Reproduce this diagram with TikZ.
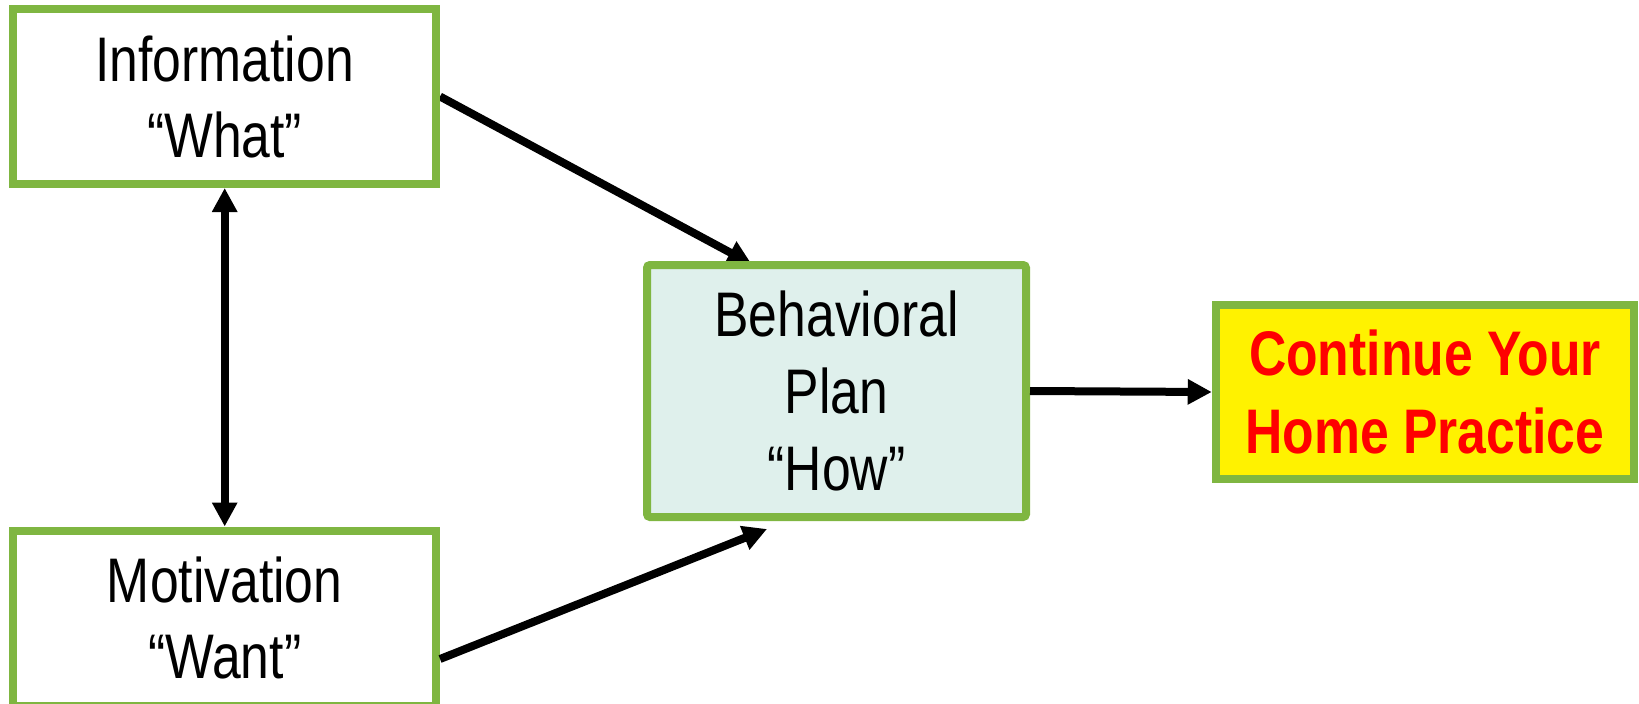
\documentclass[tikz,border=0pt]{standalone}
\usepackage{fontspec}
\setmainfont{Liberation Sans}[FakeStretch=0.82]
\usetikzlibrary{arrows.meta,calc,backgrounds}
\definecolor{boxgreen}{RGB}{127,182,65}
\definecolor{planfill}{RGB}{223,240,236}
\begin{document}
\begin{tikzpicture}[x=1pt,y=-1pt,
  box/.style={draw=boxgreen, line width=8pt, fill=white, inner sep=0pt, align=center,
    font=\fontsize{63}{76}\selectfont},
  tip/.tip={Triangle[length=24pt,width=24pt]},
  conn/.style={line width=8pt, -tip},
  biconn/.style={line width=8pt, tip-tip}]
\useasboundingbox (0,0) rectangle (1639,704);
\node[box, minimum width=422.7pt, minimum height=175pt] (info) at (224.7,96.5) {Information\\“What”};
\node[box, minimum width=422.7pt, minimum height=175pt] (mot) at (224.7,618) {Motivation\\“Want”};
\node[box, fill=planfill, rounded corners=3pt, minimum width=379pt, minimum height=252pt,
  font=\fontsize{63}{77}\selectfont] (beh) at (836.5,391) {Behavioral\\Plan\\“How”};
\node[box, fill=yellow, text=red, minimum width=418.5pt, minimum height=174pt,
  font=\bfseries\fontsize{63}{78}\selectfont] (cont) at (1425,392) {Continue Your\\Home Practice};
\begin{scope}[on background layer]
  \draw[conn] (info.east) -- ($(beh.north)+(-85,3)$);
\end{scope}
\draw[biconn] (info.south) -- (mot.north);
\draw[conn] ($(mot.east)+(0,41)$) -- ($(beh.south)+(-69.5,8)$);
\draw[conn] (beh.east) -- (cont.west);
\end{tikzpicture}
\end{document}
